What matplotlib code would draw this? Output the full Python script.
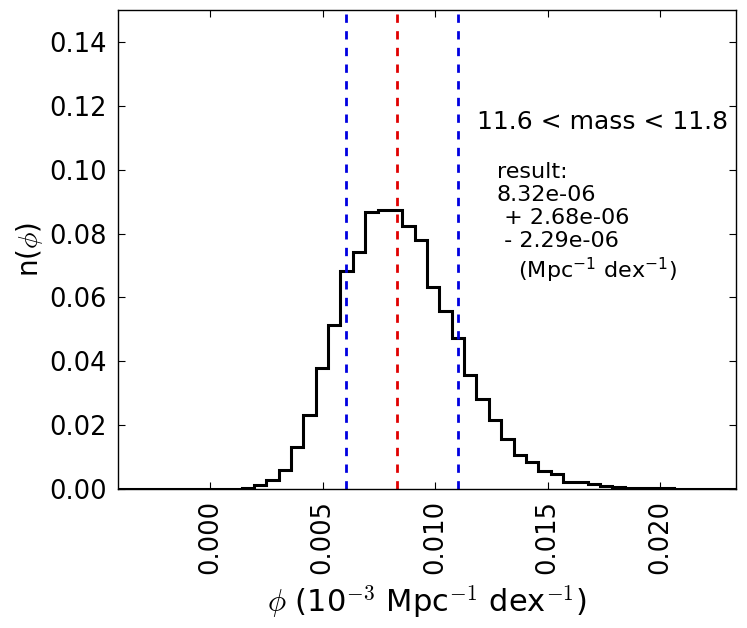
import numpy as np
import matplotlib
matplotlib.use("Agg")
import matplotlib.pyplot as plt
from matplotlib.ticker import FixedLocator, FormatStrFormatter

plt.rcParams['mathtext.fontset'] = 'cm'
plt.rcParams['font.family'] = ['DejaVu Sans']

# Histogram: fraction of samples per bin (50 bins between phi_min and phi_max)
phi_min = -0.00410
phi_max = 0.02337
n_bins = 50
frac = [0, 0, 0, 0, 0, 0, 0, 0, 0, 0.0001,
        0.0004, 0.0011, 0.0027, 0.0058, 0.0133, 0.0231, 0.0378, 0.0513, 0.0682, 0.0743,
        0.0867, 0.0875, 0.0873, 0.0823, 0.0779, 0.0633, 0.0557, 0.0474, 0.0357, 0.0283,
        0.0217, 0.0158, 0.0107, 0.0084, 0.0057, 0.0047, 0.0022, 0.0021, 0.0016, 0.0010,
        0.0006, 0.0004, 0.0002, 0.0003, 0.0003, 0.0001, 0.0001, 0.0001, 0.0001, 0]

median = 0.00832
err_plus = 0.00268
err_minus = 0.00229

xticks = [0.000, 0.005, 0.010, 0.015, 0.020]
yticks = [0.00, 0.02, 0.04, 0.06, 0.08, 0.10, 0.12, 0.14]

mass_label = "11.6 < mass < 11.8"
result_text = "result:\n8.32e-06\n + 2.68e-06\n - 2.29e-06\n   (Mpc$^{-1}$ dex$^{-1}$)"

fig = plt.figure(figsize=(7.47, 6.28), dpi=100, facecolor='white')
ax = fig.add_axes([118/747, 1 - 489/628, (736-118)/747, (489-10)/628])

edges = np.linspace(phi_min, phi_max, n_bins + 1)
ax.stairs(frac, edges, color='black', linewidth=2.2, baseline=0)

dash = (0, (3.0, 3.0))
ax.axvline(median, color='#e00000', linewidth=2.0, linestyle=dash)
ax.axvline(median - err_minus, color='#0000e0', linewidth=2.0, linestyle=dash)
ax.axvline(median + err_plus, color='#0000e0', linewidth=2.0, linestyle=dash)

ax.set_xlim(phi_min, phi_max)
ax.set_ylim(0, 0.15)
ax.xaxis.set_major_locator(FixedLocator(xticks))
ax.xaxis.set_major_formatter(FormatStrFormatter('%.3f'))
ax.yaxis.set_major_locator(FixedLocator(yticks))
ax.yaxis.set_major_formatter(FormatStrFormatter('%.2f'))
ax.tick_params(direction='in', top=True, right=True, length=5, width=0.8,
               labelsize=18.5, pad=8)
for lab in ax.get_xticklabels():
    lab.set_rotation(90)

ax.set_xlabel(r'$\phi$ (10$^{-3}$ Mpc$^{-1}$ dex$^{-1}$)', fontsize=22, labelpad=6)
ax.set_ylabel(r'n($\phi$)', fontsize=20, labelpad=3)

ax.text(0.581, 0.766, mass_label, transform=ax.transAxes, fontsize=18,
        ha='left', va='center')
ax.text(0.613, 0.683, result_text, transform=ax.transAxes, fontsize=16,
        ha='left', va='top', linespacing=1.2, math_fontfamily='dejavusans')

for s in ax.spines.values():
    s.set_linewidth(1.0)

fig.savefig('out.png', dpi=100, facecolor='white')
